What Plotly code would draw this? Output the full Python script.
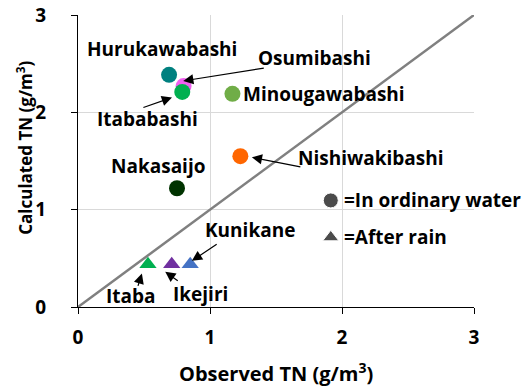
import plotly.graph_objects as go

# Observed vs calculated total nitrogen (g/m3)
stations_ordinary = ["Osumibashi", "Hurukawabashi", "Itababashi", "Minougawabashi",
                     "Nishiwakibashi", "Nakasaijo"]
obs_ordinary = [0.80, 0.69, 0.79, 1.17, 1.23, 0.75]
calc_ordinary = [2.27, 2.385, 2.21, 2.19, 1.55, 1.22]
colors_ordinary = ["#F060F0", "#00807F", "#00B050", "#70AD47", "#FF6600", "#003300"]

stations_rain = ["Itaba", "Ikejiri", "Kunikane"]
obs_rain = [0.53, 0.71, 0.85]
calc_rain = [0.44, 0.44, 0.44]
colors_rain = ["#00B050", "#7030A0", "#4472C4"]

axis_ticks = [0, 1, 2, 3]

FONT = "'Open Sans', sans-serif"

fig = go.Figure()

# 1:1 reference line
fig.add_trace(go.Scatter(x=[axis_ticks[0], axis_ticks[-1]], y=[axis_ticks[0], axis_ticks[-1]],
                         mode="lines", line=dict(color="#808080", width=2.5),
                         hoverinfo="skip", showlegend=False))

for name, x, y, c in zip(stations_ordinary, obs_ordinary, calc_ordinary, colors_ordinary):
    fig.add_trace(go.Scatter(x=[x], y=[y], mode="markers", name=name,
                             marker=dict(symbol="circle", size=16, color=c),
                             showlegend=False))

for name, x, y, c in zip(stations_rain, obs_rain, calc_rain, colors_rain):
    fig.add_trace(go.Scatter(x=[x], y=[y], mode="markers", name=name,
                             marker=dict(symbol="triangle-up", size=15, color=c),
                             showlegend=False))

# symbol key drawn inside the plot
key_x = 1.915
key_y = [1.095, 0.716]
key_symbols = ["circle", "triangle-up"]
key_texts = ["=In ordinary water", "=After rain"]
fig.add_trace(go.Scatter(x=[key_x, key_x], y=key_y, mode="markers",
                         marker=dict(symbol=key_symbols, size=[15, 14], color="black"),
                         showlegend=False, hoverinfo="skip"))

label_font = dict(family=FONT, size=19, color="black", weight="bold")

annotations = []
for t, y in zip(key_texts, key_y):
    annotations.append(dict(x=key_x + 0.085, y=y, text=t, showarrow=False, xanchor="left",
                            yanchor="middle", font=label_font))

# station labels (text, x, y)
labels = [
    ("Hurukawabashi", 0.638, 2.65),
    ("Osumibashi", 1.79, 2.56),
    ("Itababashi", 0.524, 1.93),
    ("Minougawabashi", 1.865, 2.19),
    ("Nishiwakibashi", 2.22, 1.535),
    ("Nakasaijo", 0.608, 1.453),
    ("Kunikane", 1.305, 0.788),
    ("Ikejiri", 0.926, 0.135),
    ("Itaba", 0.404, 0.108),
]
for t, x, y in labels:
    annotations.append(dict(x=x, y=y, text=t, showarrow=False, xanchor="center",
                            yanchor="middle", font=label_font))

# leader arrows (tail x, tail y, head x, head y)
arrows = [
    (1.419, 2.456, 0.797, 2.323),
    (0.484, 2.044, 0.712, 2.153),
    (1.696, 1.436, 1.317, 1.538),
    (1.062, 0.655, 0.863, 0.474),
    (0.767, 0.259, 0.661, 0.361),
    (0.451, 0.202, 0.484, 0.345),
]
for tx, ty, hx, hy in arrows:
    annotations.append(dict(x=hx, y=hy, ax=tx, ay=ty, xref="x", yref="y", axref="x", ayref="y",
                            text="", showarrow=True, arrowhead=2, arrowsize=1.7,
                            arrowwidth=1.2, arrowcolor="black"))

# axis titles
annotations.append(dict(x=0.5, y=-0.223, xref="paper", yref="paper", text="Observed TN (g/m<sup>3</sup>)",
                        showarrow=False, xanchor="center", yanchor="middle",
                        font=dict(label_font, size=20)))
annotations.append(dict(x=-0.134, y=0.545, xref="paper", yref="paper", text="Calculated TN (g/m<sup>3</sup>)",
                        showarrow=False, xanchor="center", yanchor="middle", textangle=-90,
                        font=dict(label_font, size=17)))

axis_common = dict(range=[axis_ticks[0], axis_ticks[-1]], tickvals=axis_ticks,
                   showgrid=True, gridcolor="#D9D9D9", gridwidth=1, zeroline=False,
                   showline=True, linecolor="black", linewidth=1.3,
                   ticks="outside", ticklen=6, tickcolor="black",
                   tickfont=dict(family=FONT, size=19, color="black", weight="bold"))

fig.update_layout(
    width=527, height=387,
    margin=dict(l=78, r=53, t=15, b=80, autoexpand=False),
    paper_bgcolor="white", plot_bgcolor="white",
    xaxis=dict(**axis_common, ticklabelstandoff=7),
    yaxis=dict(**axis_common, ticklabelstandoff=21),
    annotations=annotations,
    showlegend=False,
)

fig.write_html("out.html")
